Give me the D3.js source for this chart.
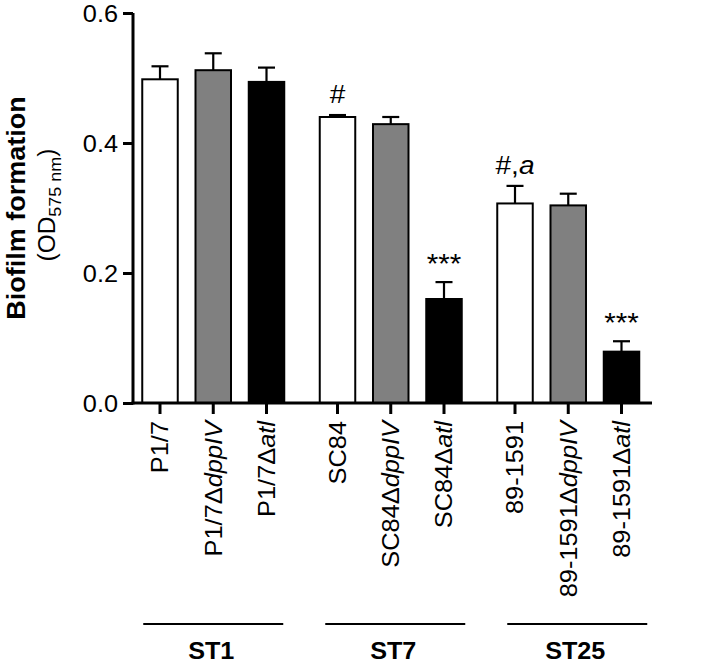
<!DOCTYPE html>
<html><head><meta charset="utf-8">
<script src="https://cdn.jsdelivr.net/npm/d3@7"></script>
<style>html,body{margin:0;padding:0;background:#fff;}svg{display:block;font-family:"Liberation Sans",Arial,sans-serif;}</style>
</head><body><svg id="c" width="721" height="664"></svg>
<script>
const strains = ["P1/7","P1/7","P1/7","SC84","SC84","SC84","89-1591","89-1591","89-1591"];
const mutants = ["","dppIV","atl","","dppIV","atl","","dppIV","atl"];
const groupOf = [0,0,0,1,1,1,2,2,2];
const groups = ["ST1","ST7","ST25"];
const means = [0.498,0.512,0.494,0.440,0.429,0.160,0.307,0.304,0.079];
const errors = [0.020,0.026,0.022,0.003,0.011,0.026,0.027,0.018,0.016];
const marks = ["","","","#","","***","#,a","","***"];
const yTicks = [0.0,0.2,0.4,0.6];
const fillFor = {"":"#ffffff","dppIV":"#808080","atl":"#000000"};

const svg = d3.select("#c");
const slot = (i)=> i + groupOf[i]/3;
const x = d3.scaleLinear().domain([0, slot(8)]).range([160, 621.5]);
const y = d3.scaleLinear().domain([0,0.6]).range([403,13]);
const bw = 35.5;

// bars
svg.selectAll("rect.bar").data(means).enter().append("rect")
  .attr("x",(d,i)=>x(slot(i))-bw/2).attr("y",d=>y(d))
  .attr("width",bw).attr("height",d=>y(0)-y(d))
  .attr("fill",(d,i)=>fillFor[mutants[i]]).attr("stroke","#000").attr("stroke-width",2);

// error bars
const eg = svg.append("g").attr("stroke","#000").attr("stroke-width",2.2);
means.forEach((m,i)=>{
  const cx = x(slot(i));
  eg.append("line").attr("x1",cx).attr("x2",cx).attr("y1",y(m)).attr("y2",y(m+errors[i]));
  eg.append("line").attr("x1",cx-8.5).attr("x2",cx+8.5).attr("y1",y(m+errors[i])).attr("y2",y(m+errors[i]));
});

// annotations
marks.forEach((t,i)=>{
  if(!t) return;
  const isStar = t.indexOf("*")>=0;
  const tx = svg.append("text")
    .attr("transform",`translate(${x(slot(i))},${y(means[i]+errors[i])-(isStar?9:12)}) scale(1.1,1)`)
    .attr("text-anchor","middle").attr("font-size",isStar?27:25.5).attr("fill","#000");
  const parts = t.split(",");
  tx.append("tspan").text(parts[0]);
  if(parts.length>1){ tx.append("tspan").text(","); tx.append("tspan").attr("font-style","italic").text(parts[1]); }
});

// y axis
const ya = svg.append("g").attr("transform","translate(133,0)")
  .call(d3.axisLeft(y).tickValues(yTicks).tickFormat(d3.format(".1f")).tickSize(10).tickPadding(5));
ya.select(".domain").attr("stroke-width",3).attr("d","M0,"+y(0.6)+"V"+(y(0)+1.5));
ya.selectAll(".tick line").attr("stroke-width",3);
ya.selectAll(".tick text").attr("font-size",23).attr("x",0).attr("dy","0.36em")
  .attr("transform","translate(-15,0) scale(1.1,1)")
  .attr("font-family","Liberation Sans, Arial, sans-serif").attr("fill","#000");

// x axis
const xa = svg.append("g");
xa.append("line").attr("x1",131.5).attr("x2",652).attr("y1",y(0)).attr("y2",y(0)).attr("stroke","#000").attr("stroke-width",3);
means.forEach((m,i)=>{
  const cx = x(slot(i));
  xa.append("line").attr("x1",cx).attr("x2",cx).attr("y1",y(0)).attr("y2",y(0)+11).attr("stroke","#000").attr("stroke-width",3);
  const t = xa.append("text").attr("transform",`translate(${cx+8.3},${y(0)+18}) rotate(-90) scale(1.08,1)`)
    .attr("text-anchor","end").attr("font-size",23.5).attr("fill","#000");
  t.append("tspan").text(strains[i]);
  if(mutants[i]){ t.append("tspan").text("\u0394"); t.append("tspan").attr("font-style","italic").text(mutants[i]); }
});

// group lines and labels
groups.forEach((g,k)=>{
  const idx = d3.range(9).filter(i=>groupOf[i]===k);
  const c = (x(slot(idx[0]))+x(slot(idx[idx.length-1])))/2 + k*4.5;
  svg.append("line").attr("x1",c-70).attr("x2",c+70).attr("y1",624).attr("y2",624).attr("stroke","#000").attr("stroke-width",2);
  svg.append("text").attr("transform",`translate(${c-2},659) scale(1.05,1)`).attr("text-anchor","middle")
    .attr("font-size",24).attr("font-weight","bold").text(g);
});

// y title
svg.append("text").attr("transform","translate(24.5,208) rotate(-90) scale(1.08,1)").attr("text-anchor","middle")
  .attr("font-size",25).attr("font-weight","bold").text("Biofilm formation");
const t2 = svg.append("text").attr("transform","translate(55,205) rotate(-90) scale(1.06,1)").attr("text-anchor","middle").attr("font-size",23);
t2.append("tspan").text("(OD");
t2.append("tspan").attr("font-size",17).attr("dy",6).text("575 nm");
t2.append("tspan").attr("dy",-6).text(")");
</script></body></html>
